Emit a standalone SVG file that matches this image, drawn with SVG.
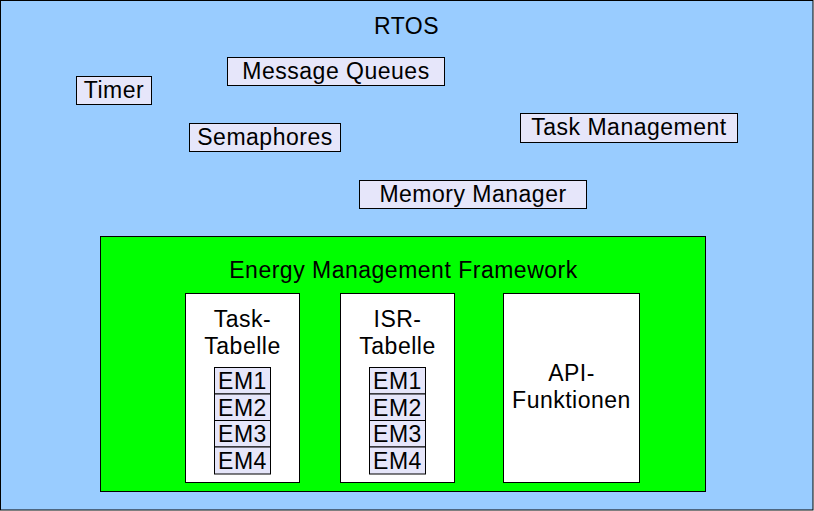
<svg xmlns="http://www.w3.org/2000/svg" width="814" height="511" viewBox="0 0 814 511">
<style>
text{font-family:"Liberation Sans",Arial,sans-serif;font-size:23px;letter-spacing:0.5px;fill:#000;text-anchor:middle}
.lbl{fill:#E6E6FA;stroke:#000;stroke-width:1}
.wht{fill:#FFFFFF;stroke:#000;stroke-width:1}
</style>
<g id="rtos">
<rect x="0.5" y="0.5" width="812.5" height="509.5" fill="#99CCFF" stroke="#000" stroke-width="1"/>
<text x="406.5" y="34">RTOS</text>
</g>
<g id="timer"><rect class="lbl" x="76.5" y="76.5" width="75" height="28"/><text x="114" y="98">Timer</text></g>
<g id="message-queues"><rect class="lbl" x="227.5" y="57.5" width="217" height="28"/><text x="336" y="79">Message Queues</text></g>
<g id="semaphores"><rect class="lbl" x="189.5" y="123.5" width="151" height="28"/><text x="265" y="145">Semaphores</text></g>
<g id="task-management"><rect class="lbl" x="520.5" y="113.5" width="217" height="29"/><text x="629" y="135">Task Management</text></g>
<g id="memory-manager"><rect class="lbl" x="359.5" y="180.5" width="227" height="28"/><text x="473" y="202">Memory Manager</text></g>
<g id="emf">
<rect x="100.5" y="236.5" width="605" height="255" fill="#00FF00" stroke="#000" stroke-width="1"/>
<text x="403.5" y="278">Energy Management Framework</text>
</g>
<g id="task-tabelle">
<rect class="wht" x="185.5" y="293.5" width="114" height="189"/>
<text x="242.5" y="327">Task-</text>
<text x="242.5" y="354">Tabelle</text>
<rect class="lbl" x="214.5" y="367.5" width="56" height="26.5"/><text x="242.5" y="389">EM1</text>
<rect class="lbl" x="214.5" y="394" width="56" height="26.5"/><text x="242.5" y="415.5">EM2</text>
<rect class="lbl" x="214.5" y="420.5" width="56" height="26.5"/><text x="242.5" y="442">EM3</text>
<rect class="lbl" x="214.5" y="447" width="56" height="27"/><text x="242.5" y="468.5">EM4</text>
</g>
<g id="isr-tabelle">
<rect class="wht" x="340.5" y="293.5" width="114" height="189"/>
<text x="397.5" y="327">ISR-</text>
<text x="397.5" y="354">Tabelle</text>
<rect class="lbl" x="369.5" y="367.5" width="56" height="26.5"/><text x="397.5" y="389">EM1</text>
<rect class="lbl" x="369.5" y="394" width="56" height="26.5"/><text x="397.5" y="415.5">EM2</text>
<rect class="lbl" x="369.5" y="420.5" width="56" height="26.5"/><text x="397.5" y="442">EM3</text>
<rect class="lbl" x="369.5" y="447" width="56" height="27"/><text x="397.5" y="468.5">EM4</text>
</g>
<g id="api-funktionen">
<rect class="wht" x="503.5" y="293.5" width="136" height="189"/>
<text x="571.5" y="381">API-</text>
<text x="571.5" y="408">Funktionen</text>
</g>
<g id="connectors"></g>
</svg>
